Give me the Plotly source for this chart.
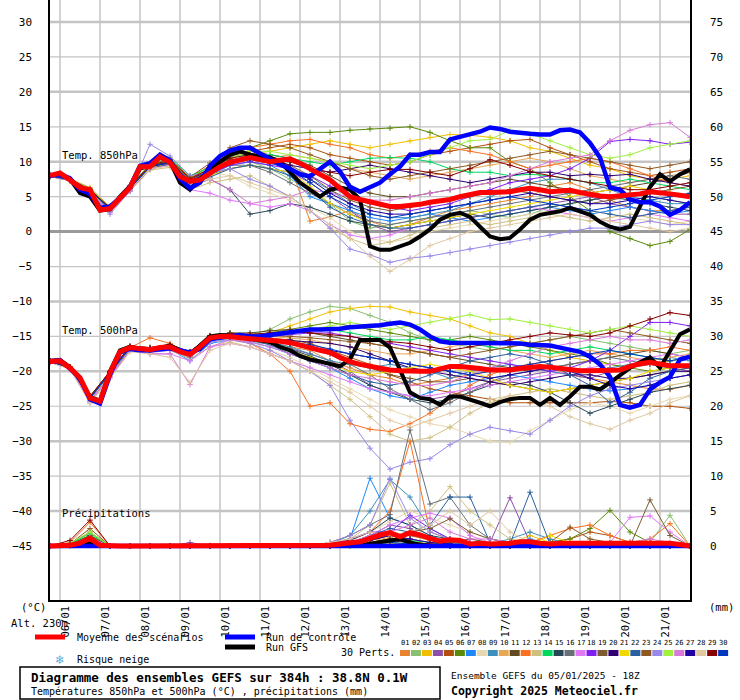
import pandas as pd
import plotly.graph_objects as go

# ── Time axes ──
run_start = "2025-01-05 18:00"
times6 = pd.date_range(run_start, periods=65, freq="6h")
times12 = times6[::2]
days = pd.date_range("2025-01-06", "2025-01-21", freq="D")

# ── Thick lines (6-hourly) ──
mean_850 = [8.0, 8.4, 7.4, 6.3, 6.0, 3.1, 3.3, 4.9, 6.3, 9.3, 9.3, 10.7, 9.9, 7.9, 7.2, 7.4, 8.4, 9.3, 9.9, 10.3,
            10.6, 10.3, 10.0, 10.2, 10.4, 9.8, 8.9, 8.2, 7.4, 6.3, 5.0, 4.6, 4.3, 3.9, 3.6, 3.6, 3.7, 3.9, 4.2, 4.4,
            4.6, 5.0, 5.3, 5.6, 5.6, 5.7, 5.7, 6.0, 6.2, 6.0, 5.7, 5.8, 5.9, 5.6, 5.3, 5.1, 5.0, 5.1, 5.2, 5.4,
            5.7, 5.6, 5.4, 5.2, 5.0]
ctrl_850 = [8.0, 8.2, 7.6, 6.0, 5.4, 3.4, 3.6, 4.8, 6.4, 9.4, 9.8, 11.0, 10.2, 7.6, 6.2, 7.0, 9.4, 10.8, 11.6, 12.0,
            12.0, 11.2, 10.4, 9.6, 9.0, 8.2, 7.9, 8.9, 10.0, 8.6, 6.4, 5.7, 6.3, 7.0, 8.2, 9.3, 11.0, 11.0, 11.4, 11.4,
            13.2, 13.6, 13.9, 14.3, 14.9, 14.7, 14.3, 14.1, 14.0, 13.9, 13.9, 14.5, 14.6, 14.2, 12.7, 10.6, 6.3, 6.0, 4.6, 4.2,
            4.2, 3.6, 2.4, 3.1, 4.2]
gfs_850 = [8.0, 8.3, 7.5, 5.5, 5.0, 3.0, 3.2, 5.0, 6.5, 9.0, 9.5, 11.0, 10.0, 7.0, 6.0, 7.5, 9.0, 10.0, 11.0, 11.5,
           11.0, 10.8, 10.6, 10.0, 8.5, 7.0, 6.0, 5.0, 6.0, 6.3, 6.0, 4.6, -2.1, -2.6, -2.6, -2.1, -1.6, -0.7, 0.3, 1.7,
           2.4, 2.7, 2.1, 0.7, -0.7, -1.1, -0.9, 0.3, 1.7, 2.4, 2.7, 2.9, 3.4, 2.9, 2.4, 1.4, 0.7, 0.3, 0.7, 3.6,
           6.4, 8.2, 7.2, 8.2, 8.9]
mean_500 = [-18.6, -18.5, -19.5, -20.9, -23.8, -24.3, -20.2, -17.2, -16.6, -16.7, -16.9, -16.6, -16.5, -17.2, -17.6, -16.5, -15.2, -15.0, -15.0, -15.2,
            -15.3, -15.4, -15.5, -15.7, -15.9, -16.2, -16.6, -17.0, -17.3, -18.0, -18.6, -19.0, -19.3, -19.6, -19.8, -19.9, -20.0, -20.0, -20.0, -19.6,
            -19.3, -19.3, -19.4, -19.6, -19.8, -19.8, -19.8, -19.6, -19.4, -19.3, -19.4, -19.6, -19.8, -19.9, -19.9, -19.9, -19.9, -19.8, -19.3, -18.9,
            -18.7, -18.9, -19.2, -19.2, -19.2]
ctrl_500 = [-18.6, -18.4, -19.6, -21.0, -24.0, -24.6, -20.5, -17.3, -16.8, -17.0, -17.0, -16.8, -16.7, -17.0, -17.3, -16.8, -15.4, -15.2, -15.0, -14.8,
            -15.0, -15.0, -14.8, -14.6, -14.3, -14.1, -14.0, -14.0, -14.0, -13.9, -13.7, -13.6, -13.6, -13.4, -13.2, -13.0, -13.3, -14.0, -15.0, -15.7,
            -15.9, -15.9, -15.9, -15.9, -15.9, -16.0, -15.9, -16.0, -16.2, -16.2, -16.3, -16.6, -16.9, -17.2, -17.9, -19.0, -20.8, -24.8, -25.2, -24.8,
            -22.6, -21.6, -20.8, -18.3, -17.9]
gfs_500 = [-18.5, -18.4, -19.4, -21.0, -23.7, -24.2, -20.0, -17.0, -16.5, -16.8, -17.0, -16.6, -16.3, -17.0, -17.5, -16.3, -15.0, -14.8, -14.9, -15.1,
           -15.3, -15.5, -15.8, -16.5, -17.0, -17.8, -18.3, -18.6, -19.0, -19.3, -18.3, -15.5, -15.5, -15.5, -16.6, -19.8, -23.0, -23.8, -24.0, -24.8,
           -23.6, -23.6, -24.0, -24.5, -25.0, -24.4, -24.0, -23.8, -23.8, -24.8, -23.8, -24.8, -23.6, -22.2, -22.2, -22.6, -21.6, -20.5, -19.5, -18.7,
           -18.0, -19.5, -17.2, -14.7, -14.0]
mean_pr = [0, 0, 0.1, 0.4, 1.1, 0.1, 0, 0, 0, 0, 0, 0, 0, 0.05, 0.05, 0.05, 0, 0, 0, 0.05,
           0.05, 0, 0, 0, 0, 0.05, 0.05, 0.1, 0.1, 0.3, 0.4, 0.6, 1.1, 1.6, 1.9, 1.3, 1.9, 1.6, 1.1, 0.7,
           0.9, 0.8, 0.3, 0.4, 0.3, 0.3, 0.4, 0.6, 0.6, 0.4, 0.3, 0.4, 0.4, 0.3, 0.3, 0.3, 0.3, 0.3, 0.4, 0.4,
           0.3, 0.3, 0.4, 0.2, 0]
ctrl_pr = [0] * 65
gfs_pr = [0, 0, 0, 0.3, 0.3, 0, 0, 0, 0, 0, 0, 0, 0, 0, 0, 0, 0, 0, 0, 0,
          0, 0, 0, 0, 0, 0, 0, 0, 0, 0, 0, 0, 0.3, 0.6, 0.8, 1.0, 0.5, 0.2, 0, 0,
          0, 0, 0, 0, 0, 0, 0, 0, 0, 0, 0, 0, 0, 0, 0, 0, 0.2, 0.4, 0.2, 0,
          0, 0, 0, 0, 0]

# ── 30 perturbations (12-hourly) ──
member_colors = ["#e8822e", "#88c070", "#f0c000", "#8c50a8", "#b0500c", "#5a8a0a", "#1e88ff", "#e8d8b0", "#3c90c0", "#e8a858",
                 "#604c20", "#f87020", "#d0c080", "#00d860", "#284858", "#687078", "#e078f8", "#8020f0", "#7c5c30", "#300070",
                 "#f0d800", "#2860a0", "#905820", "#9888e8", "#a0f040", "#d878d8", "#2000a0", "#e0c8a0", "#880000", "#0038c0"]

t850_01 = [8.0, 7.6, 6.0, 3.4, 6.0, 9.0, 9.6, 7.6, 8.0, 10.0, 11.0, 10.5, 9.5, 1.5, 2.1, 3.0, 1.5, 0.5, 1.0, 2.0, 3.0, 3.5, 4.0, 4.5, 5.0, 6.5, 7.0, 6.0, 4.5, 3.5, 3.0, 3.0, 3.5]
t850_02 = [7.9, 7.3, 5.8, 3.0, 6.5, 9.5, 10.2, 7.0, 9.0, 10.5, 10.0, 9.0, 7.5, 6.0, 4.0, 1.5, 0.5, 1.0, 1.5, 2.0, 2.5, 3.0, 2.5, 2.0, 2.5, 3.5, 4.0, 4.5, 5.0, 5.5, 5.0, 4.5, 4.0]
t850_03 = [8.1, 7.5, 6.2, 3.5, 6.3, 9.4, 10.0, 7.8, 8.5, 10.0, 11.0, 11.5, 12.0, 12.5, 13.0, 12.5, 12.0, 12.5, 13.0, 13.5, 13.9, 13.8, 13.5, 13.0, 12.0, 11.5, 10.5, 9.5, 9.0, 8.0, 7.5, 7.5, 8.0]
t850_04 = [7.9, 7.4, 5.5, 2.8, 5.8, 9.2, 9.8, 7.4, 8.2, 9.0, 9.5, 9.0, 8.5, 7.0, 5.0, 3.0, 1.0, 0.0, 0.5, 1.0, 1.5, 2.0, 2.5, 3.0, 3.5, 4.0, 4.5, 5.0, 4.0, 3.5, 3.0, 2.5, 2.5]
t850_05 = [8.0, 7.4, 6.1, 3.2, 6.4, 9.5, 10.4, 7.4, 8.9, 10.5, 11.5, 12.0, 12.5, 12.0, 11.0, 10.5, 10.0, 9.5, 10.0, 11.0, 11.5, 12.0, 12.5, 13.0, 13.2, 12.0, 11.0, 10.0, 9.0, 8.5, 8.0, 8.5, 9.0]
t850_06 = [8.0, 7.5, 6.0, 3.6, 6.6, 9.6, 10.2, 7.6, 9.4, 11.0, 12.0, 13.0, 14.0, 14.2, 14.2, 14.5, 14.7, 14.8, 15.0, 14.2, 13.0, 12.0, 12.0, 10.0, 9.0, 7.0, 5.0, 3.0, 0.0, -1.0, -2.0, -1.4, 0.3]
t850_07 = [8.2, 7.5, 5.9, 3.2, 6.2, 9.0, 9.6, 7.0, 8.0, 9.5, 10.0, 9.5, 8.0, 5.0, 4.0, 3.0, 2.0, 1.5, 2.0, 2.5, 2.0, 1.5, 2.0, 2.5, 3.0, 3.5, 3.0, 2.5, 3.0, 3.5, 3.0, 2.5, 3.0]
t850_08 = [8.0, 7.3, 5.7, 3.0, 6.0, 9.0, 9.5, 6.5, 8.5, 8.0, 6.5, 5.5, 4.5, 3.5, 2.0, 0.0, -1.0, -1.5, -1.0, 0.0, 0.5, 1.0, 1.5, 2.0, 2.5, 3.0, 3.5, 3.0, 2.5, 2.0, 1.5, 1.0, 1.5]
t850_09 = [8.0, 7.5, 6.0, 3.4, 6.5, 9.3, 10.0, 7.2, 8.6, 10.0, 10.5, 10.0, 9.0, 7.5, 6.0, 4.0, 2.5, 2.0, 2.0, 2.5, 3.0, 4.0, 5.0, 6.0, 7.0, 7.5, 7.5, 7.0, 6.0, 5.0, 4.5, 4.0, 4.0]
t850_10 = [8.1, 7.6, 6.3, 3.5, 6.5, 9.5, 10.2, 7.6, 8.8, 10.2, 11.0, 10.5, 11.0, 10.5, 10.0, 9.0, 8.5, 8.0, 7.5, 8.0, 8.5, 9.0, 9.5, 10.0, 10.5, 10.0, 9.0, 8.0, 7.5, 7.0, 7.5, 8.0, 8.5]
t850_11 = [8.0, 7.4, 5.8, 3.3, 6.3, 9.4, 10.0, 7.5, 9.0, 10.8, 11.5, 11.0, 10.5, 9.5, 8.0, 6.5, 5.5, 5.0, 5.0, 5.5, 6.0, 6.5, 7.0, 7.5, 7.0, 6.5, 6.0, 5.5, 6.0, 6.5, 7.0, 7.5, 8.5]
t850_12 = [8.0, 7.5, 6.0, 3.5, 6.4, 9.6, 10.5, 7.6, 9.5, 11.2, 12.0, 12.5, 13.0, 13.2, 12.5, 12.0, 11.0, 10.5, 11.0, 11.5, 12.0, 11.5, 11.0, 10.0, 9.0, 9.5, 10.0, 10.5, 10.0, 9.0, 8.0, 7.0, 6.5]
t850_13 = [7.9, 7.3, 5.6, 2.9, 5.8, 8.8, 9.2, 6.0, 7.0, 7.5, 8.0, 6.5, 5.0, 3.0, 0.5, -1.0, -2.0, -1.5, -0.5, 0.5, 1.0, 1.5, 1.0, 1.5, 2.0, 2.5, 2.0, 1.5, 2.0, 2.5, 2.0, 1.5, 1.0]
t850_14 = [8.0, 7.5, 6.1, 3.4, 6.5, 9.6, 10.5, 8.0, 9.2, 10.6, 11.0, 11.0, 10.5, 10.0, 9.5, 10.0, 10.5, 10.6, 10.5, 10.0, 9.0, 8.5, 8.5, 8.0, 8.2, 8.0, 7.5, 7.0, 7.0, 7.5, 7.0, 6.5, 6.0]
t850_15 = [8.0, 7.4, 5.8, 3.2, 6.0, 9.2, 9.5, 6.5, 7.5, 6.0, 2.5, 3.0, 4.0, 3.5, 2.5, 1.5, 1.0, 0.5, 1.0, 1.5, 2.0, 2.5, 2.0, 2.5, 3.0, 3.5, 4.0, 4.5, 5.0, 4.5, 4.0, 3.5, 3.0]
t850_16 = [8.0, 7.4, 5.9, 3.3, 6.2, 9.2, 9.8, 7.0, 8.5, 9.5, 9.5, 8.5, 7.0, 5.5, 4.0, 2.5, 1.5, 1.0, 1.5, 2.0, 2.5, 3.0, 3.5, 4.0, 4.5, 5.0, 5.5, 6.0, 6.5, 7.0, 7.5, 8.0, 7.5]
t850_17 = [8.0, 7.4, 5.7, 3.0, 6.0, 9.0, 9.5, 6.0, 5.5, 4.5, 4.0, 3.5, 4.0, 3.0, 1.0, -0.5, -1.0, -0.5, 0.5, 1.0, 1.5, 2.0, 2.5, 3.0, 3.5, 3.0, 2.5, 2.0, 1.5, 2.0, 2.5, 2.0, 1.5]
t850_18 = [8.1, 7.5, 6.0, 3.3, 6.2, 9.3, 9.8, 7.2, 8.3, 9.5, 10.0, 9.5, 9.0, 8.0, 6.5, 5.0, 4.0, 3.5, 3.0, 3.5, 4.0, 5.0, 6.0, 7.0, 7.5, 8.0, 9.0, 10.5, 12.9, 13.2, 13.0, 12.5, 12.8]
t850_19 = [8.0, 7.4, 5.9, 3.3, 6.3, 9.4, 10.0, 7.4, 8.6, 10.0, 10.5, 10.0, 9.5, 8.0, 6.0, 4.5, 3.5, 3.0, 3.5, 4.0, 4.5, 5.0, 5.5, 6.0, 5.5, 5.0, 4.5, 4.0, 4.5, 5.0, 5.5, 6.0, 6.5]
t850_20 = [8.0, 7.5, 6.0, 3.4, 6.4, 9.5, 10.0, 7.5, 8.8, 10.2, 10.8, 10.5, 9.5, 9.0, 8.5, 9.0, 9.5, 9.0, 8.5, 8.0, 7.5, 7.0, 7.5, 8.0, 8.5, 8.5, 8.0, 8.2, 8.0, 8.2, 7.5, 7.0, 6.5]
t850_21 = [8.0, 7.4, 5.8, 3.1, 6.2, 9.2, 9.8, 7.0, 8.0, 9.0, 9.5, 9.0, 8.5, 6.5, 4.0, 2.5, 1.0, 0.5, 1.0, 1.5, 2.0, 2.5, 3.0, 3.5, 4.0, 4.5, 5.0, 5.5, 6.0, 6.5, 6.0, 5.5, 5.0]
t850_22 = [7.9, 7.3, 5.7, 3.0, 5.9, 9.0, 9.6, 6.8, 7.8, 9.0, 9.5, 9.0, 8.0, 6.0, 3.5, 2.0, 1.0, 0.5, 0.5, 1.0, 1.5, 2.0, 2.5, 3.0, 3.5, 4.0, 3.5, 3.0, 2.5, 2.0, 2.5, 3.0, 3.5]
t850_23 = [8.0, 7.5, 6.0, 3.4, 6.5, 9.6, 10.3, 7.8, 9.8, 12.0, 13.0, 12.5, 12.0, 11.0, 10.0, 9.0, 8.0, 7.5, 8.0, 8.5, 9.0, 9.5, 10.0, 10.5, 11.0, 11.5, 11.0, 10.5, 10.0, 9.5, 9.0, 9.5, 10.0]
t850_24 = [8.1, 7.5, 5.8, 2.5, 5.8, 12.5, 10.8, 8.0, 8.5, 9.0, 7.5, 6.5, 5.0, 3.0, 0.5, -2.5, -3.3, -4.4, -3.8, -3.5, -3.0, -2.5, -2.0, -1.5, -1.0, -0.5, 0.0, 0.5, 0.5, 1.0, 1.5, 1.0, 1.0]
t850_25 = [8.0, 7.5, 6.1, 3.5, 6.4, 9.5, 10.2, 7.5, 9.2, 10.5, 11.5, 11.5, 11.0, 10.5, 10.0, 9.5, 9.0, 9.5, 10.0, 11.0, 12.0, 13.0, 13.2, 14.5, 14.0, 13.0, 12.0, 11.0, 10.5, 11.0, 12.0, 12.5, 13.0]
t850_26 = [7.9, 7.3, 5.6, 2.9, 5.9, 9.0, 9.5, 6.5, 7.5, 6.0, 4.0, 4.5, 5.0, 6.0, 5.5, 5.0, 4.5, 4.5, 5.0, 5.5, 6.0, 6.5, 7.0, 8.0, 9.0, 10.0, 10.5, 11.0, 13.0, 14.5, 15.3, 15.6, 13.5]
t850_27 = [8.0, 7.4, 5.9, 3.3, 6.2, 9.3, 9.8, 7.2, 8.5, 10.0, 10.5, 10.0, 9.0, 7.5, 5.5, 4.0, 3.0, 2.5, 2.5, 3.0, 3.5, 4.0, 4.5, 5.0, 5.5, 5.0, 4.5, 4.0, 4.0, 4.5, 5.0, 4.5, 4.0]
t850_28 = [8.0, 7.4, 5.8, 3.1, 6.0, 9.0, 9.4, 6.8, 7.5, 8.0, 7.0, 6.0, 5.0, 3.0, 1.0, -1.0, -3.5, -5.7, -4.0, -2.0, -1.0, 0.0, 0.5, 1.0, 1.5, 2.0, 2.5, 2.0, 1.5, 1.0, 0.5, 0.0, 0.5]
t850_29 = [8.0, 7.5, 6.0, 3.4, 6.4, 9.5, 10.2, 7.6, 9.0, 10.5, 11.0, 10.5, 10.0, 9.0, 8.5, 8.0, 8.5, 8.9, 8.9, 8.5, 8.0, 9.0, 10.3, 9.5, 8.6, 8.0, 7.5, 7.0, 6.5, 6.0, 6.0, 6.5, 7.0]
t850_30 = [8.0, 7.4, 5.9, 3.2, 6.2, 9.3, 9.9, 7.1, 8.3, 9.8, 10.3, 9.8, 9.0, 7.0, 5.0, 3.5, 2.5, 2.0, 2.5, 3.0, 3.5, 4.0, 4.5, 5.0, 4.5, 4.0, 3.5, 3.0, 3.5, 4.0, 4.5, 5.0, 5.5]

t500_01 = [-18.5, -19.4, -23.6, -20.0, -16.5, -16.8, -16.6, -17.5, -15.5, -15.2, -15.5, -15.8, -16.5, -17.0, -18.5, -19.5, -20.5, -21.0, -22.0, -21.5, -21.0, -20.5, -20.0, -19.5, -19.0, -19.5, -20.5, -21.0, -21.5, -22.0, -22.5, -22.6, -22.0]
t500_02 = [-18.6, -19.5, -23.8, -20.5, -16.8, -17.0, -16.4, -17.2, -15.0, -14.5, -14.8, -14.0, -12.5, -11.5, -10.7, -11.0, -12.0, -13.0, -14.5, -15.5, -16.0, -16.5, -17.0, -16.5, -16.0, -15.5, -15.0, -15.5, -16.0, -16.5, -17.0, -17.5, -17.0]
t500_03 = [-18.6, -19.5, -23.9, -20.3, -16.6, -16.9, -16.5, -17.8, -15.3, -15.0, -15.2, -14.5, -13.5, -12.5, -11.5, -11.0, -10.7, -10.8, -11.5, -12.0, -12.5, -13.5, -14.5, -15.0, -16.0, -17.0, -18.0, -18.5, -19.0, -19.5, -19.0, -18.5, -18.0]
t500_04 = [-18.7, -19.6, -24.0, -20.4, -16.7, -17.0, -16.7, -17.8, -15.4, -15.2, -15.5, -16.0, -16.8, -17.5, -18.5, -20.0, -22.0, -23.0, -23.5, -24.0, -23.5, -22.5, -21.5, -21.0, -20.5, -20.0, -20.5, -21.0, -20.0, -19.5, -19.0, -19.5, -20.0]
t500_05 = [-18.6, -19.5, -23.8, -20.2, -16.5, -16.8, -16.4, -17.5, -15.1, -14.8, -15.0, -15.2, -15.5, -16.0, -17.0, -18.0, -19.0, -20.5, -21.5, -22.5, -23.0, -23.5, -24.0, -24.5, -24.5, -24.5, -24.5, -24.5, -24.3, -24.5, -25.0, -25.0, -25.3]
t500_06 = [-18.5, -19.4, -23.7, -20.1, -16.5, -16.7, -16.3, -17.3, -15.0, -14.6, -14.8, -14.5, -14.0, -13.5, -13.0, -13.5, -14.0, -14.5, -15.0, -15.5, -15.5, -15.0, -15.5, -16.0, -16.5, -17.0, -17.5, -18.0, -19.0, -19.5, -20.0, -19.5, -19.0]
t500_07 = [-18.6, -19.5, -23.9, -20.4, -16.8, -17.2, -16.8, -18.5, -16.0, -15.5, -15.8, -16.5, -17.5, -18.5, -19.5, -21.0, -22.5, -23.5, -24.0, -23.0, -22.0, -21.5, -21.0, -20.5, -21.0, -21.5, -22.0, -22.5, -22.8, -22.5, -22.0, -21.0, -20.5]
t500_08 = [-18.7, -19.6, -24.2, -20.8, -17.0, -17.3, -16.9, -18.0, -15.8, -15.5, -16.0, -17.0, -18.0, -19.5, -21.0, -22.5, -24.0, -25.5, -26.5, -27.5, -28.0, -29.0, -30.0, -30.2, -28.5, -27.0, -25.5, -24.5, -25.0, -26.0, -25.0, -24.0, -23.5]
t500_09 = [-18.6, -19.5, -23.8, -20.2, -16.6, -16.9, -16.5, -17.5, -15.2, -15.0, -15.3, -15.8, -16.5, -17.5, -18.5, -19.0, -19.5, -19.0, -19.5, -20.0, -21.0, -20.0, -19.5, -19.0, -19.5, -20.0, -20.5, -20.0, -19.5, -19.0, -18.5, -18.0, -18.5]
t500_10 = [-18.6, -19.5, -23.7, -20.1, -16.5, -16.7, -16.3, -17.4, -15.0, -14.8, -15.0, -15.0, -15.2, -15.5, -16.0, -16.5, -17.0, -17.5, -17.5, -17.0, -16.5, -16.0, -16.5, -17.0, -17.5, -18.0, -17.5, -17.0, -17.5, -18.0, -18.5, -18.0, -17.5]
t500_11 = [-18.5, -19.4, -23.6, -20.0, -16.4, -16.6, -16.2, -17.2, -14.9, -14.5, -14.5, -14.2, -14.0, -14.5, -15.0, -15.5, -16.0, -16.5, -17.0, -17.5, -18.0, -18.5, -19.0, -19.5, -20.0, -19.5, -19.0, -18.5, -18.0, -17.5, -17.0, -17.5, -18.0]
t500_12 = [-18.6, -19.5, -23.8, -20.2, -16.6, -15.2, -16.0, -17.5, -15.3, -15.2, -16.0, -17.5, -20.0, -25.0, -24.5, -27.5, -28.3, -28.6, -27.5, -26.0, -24.0, -22.0, -20.5, -19.5, -19.0, -18.5, -18.0, -17.5, -17.5, -17.0, -17.0, -16.5, -17.0]
t500_13 = [-18.7, -19.6, -24.1, -20.6, -16.9, -17.2, -17.0, -18.2, -16.5, -15.8, -16.5, -17.5, -18.5, -20.0, -22.0, -24.0, -26.5, -29.0, -30.0, -29.5, -28.0, -26.0, -24.5, -23.5, -23.0, -22.5, -23.0, -23.5, -24.0, -23.5, -23.0, -22.0, -21.5]
t500_14 = [-18.6, -19.5, -23.8, -20.2, -16.6, -16.9, -16.4, -17.4, -15.1, -14.8, -15.0, -15.0, -14.5, -14.0, -14.0, -14.5, -15.0, -15.5, -15.5, -15.0, -15.5, -16.0, -16.5, -17.0, -17.0, -17.5, -17.0, -16.5, -17.0, -17.5, -18.0, -18.5, -18.0]
t500_15 = [-18.6, -19.5, -23.9, -20.3, -16.7, -17.0, -16.6, -17.7, -15.4, -15.2, -15.5, -16.0, -16.8, -17.8, -19.0, -20.5, -22.0, -23.0, -24.0, -24.5, -24.0, -23.0, -22.0, -21.5, -22.0, -23.0, -24.5, -26.0, -25.0, -24.0, -23.0, -22.5, -22.0]
t500_16 = [-18.6, -19.5, -23.8, -20.2, -16.6, -16.9, -16.5, -17.6, -15.2, -15.0, -15.3, -15.5, -16.0, -16.5, -17.5, -19.0, -20.5, -22.5, -24.0, -25.5, -24.5, -23.0, -21.5, -20.5, -20.0, -19.5, -19.0, -18.5, -18.0, -18.5, -19.0, -19.5, -19.0]
t500_17 = [-18.7, -19.6, -24.3, -20.7, -17.0, -17.5, -17.5, -18.5, -16.5, -16.0, -16.5, -17.5, -18.5, -19.5, -20.5, -21.5, -22.5, -23.0, -23.5, -23.5, -23.0, -22.5, -22.0, -21.5, -21.0, -20.5, -20.0, -19.5, -19.0, -18.5, -18.0, -17.5, -18.0]
t500_18 = [-18.6, -19.5, -23.8, -20.2, -16.6, -16.9, -16.5, -17.5, -15.2, -15.0, -15.2, -15.0, -14.8, -14.5, -14.5, -15.0, -15.5, -16.0, -16.5, -17.0, -17.5, -18.0, -18.5, -19.0, -19.5, -20.0, -19.5, -18.5, -17.0, -15.0, -13.0, -13.0, -13.5]
t500_19 = [-18.6, -19.4, -23.7, -20.1, -16.5, -16.8, -16.4, -17.4, -15.1, -14.9, -15.1, -15.3, -15.8, -16.5, -17.5, -18.5, -19.5, -20.5, -21.0, -21.5, -21.5, -21.0, -21.5, -22.0, -22.5, -23.0, -22.5, -22.0, -21.5, -21.0, -20.5, -20.0, -19.5]
t500_20 = [-18.6, -19.5, -23.8, -20.2, -16.6, -16.9, -16.5, -17.6, -15.2, -15.0, -15.2, -15.3, -15.5, -15.8, -16.0, -16.5, -17.5, -18.5, -19.5, -20.0, -20.5, -21.0, -21.5, -22.0, -21.5, -21.0, -20.5, -20.5, -21.0, -21.0, -20.5, -20.0, -20.0]
t500_21 = [-18.6, -19.5, -23.8, -20.3, -16.7, -17.2, -16.8, -18.0, -15.5, -15.3, -15.6, -16.0, -17.0, -18.0, -19.0, -20.0, -20.5, -20.0, -19.5, -19.0, -19.5, -20.0, -21.0, -22.0, -22.5, -23.0, -22.5, -22.0, -21.5, -21.0, -20.0, -19.5, -19.0]
t500_22 = [-18.6, -19.5, -23.8, -20.3, -16.7, -17.0, -16.6, -17.8, -15.4, -15.2, -15.6, -16.2, -17.5, -18.5, -19.5, -20.5, -21.5, -22.0, -21.5, -20.5, -19.5, -18.5, -18.0, -17.5, -18.0, -19.0, -20.5, -22.0, -24.5, -23.0, -21.0, -20.0, -19.5]
t500_23 = [-18.5, -19.4, -23.6, -20.0, -16.5, -16.7, -16.3, -17.3, -15.0, -14.7, -14.8, -14.8, -15.0, -15.2, -15.5, -15.8, -16.0, -16.5, -17.0, -17.5, -18.0, -17.5, -17.0, -16.5, -16.0, -15.5, -15.0, -14.5, -14.0, -14.5, -15.0, -15.5, -16.0]
t500_24 = [-18.7, -19.6, -24.5, -21.0, -17.0, -17.3, -17.0, -18.0, -15.8, -15.5, -16.0, -17.0, -18.5, -20.0, -22.0, -27.0, -31.0, -34.0, -33.0, -32.5, -30.5, -29.0, -28.0, -28.5, -29.0, -27.0, -25.0, -23.5, -22.5, -22.0, -21.5, -21.0, -20.5]
t500_25 = [-18.6, -19.5, -23.8, -20.2, -16.6, -16.9, -16.5, -17.5, -15.2, -15.0, -15.2, -15.0, -14.5, -14.0, -13.5, -13.0, -13.5, -14.0, -13.5, -13.0, -12.5, -11.9, -12.6, -12.5, -13.0, -13.5, -14.0, -14.5, -14.0, -13.5, -14.0, -14.5, -15.0]
t500_26 = [-18.7, -19.6, -24.2, -20.8, -17.0, -17.5, -17.5, -21.9, -16.5, -15.5, -15.8, -16.5, -17.5, -18.5, -19.5, -20.5, -21.0, -21.5, -22.0, -22.0, -21.5, -20.5, -19.5, -18.5, -17.5, -16.5, -16.0, -15.5, -15.0, -15.5, -15.5, -16.0, -15.5]
t500_27 = [-18.6, -19.5, -23.8, -20.2, -16.6, -16.9, -16.5, -17.6, -15.3, -15.1, -15.3, -15.5, -16.0, -16.5, -17.0, -17.5, -18.0, -18.5, -19.0, -19.5, -20.0, -20.5, -21.0, -20.5, -20.0, -19.5, -20.0, -21.0, -22.0, -22.5, -22.0, -21.0, -20.5]
t500_28 = [-18.7, -19.7, -24.6, -21.0, -17.2, -17.5, -18.0, -21.6, -17.0, -16.0, -16.5, -17.5, -18.5, -20.0, -21.5, -23.0, -25.0, -27.0, -28.0, -27.0, -26.0, -25.0, -24.0, -23.5, -24.0, -25.0, -26.5, -27.5, -28.3, -27.0, -26.0, -24.5, -23.5]
t500_29 = [-18.5, -19.4, -23.6, -20.0, -16.4, -16.6, -16.2, -17.2, -14.9, -14.6, -14.7, -14.5, -14.3, -14.5, -14.8, -15.0, -15.5, -15.8, -16.0, -16.5, -17.0, -16.5, -16.0, -15.5, -15.0, -14.5, -14.8, -15.0, -14.5, -13.5, -12.5, -11.6, -12.0]
t500_30 = [-18.6, -19.5, -23.8, -20.2, -16.6, -16.9, -16.5, -17.6, -15.2, -15.0, -15.3, -15.4, -15.8, -16.2, -16.8, -17.5, -18.0, -18.5, -19.0, -19.5, -20.0, -20.5, -20.0, -19.5, -19.0, -18.5, -18.0, -17.5, -17.0, -17.5, -18.0, -18.5, -18.0]

pr_01 = [0, 0.2, 1.0, 0, 0, 0, 0, 0, 0, 0, 0, 0, 0, 0, 0.3, 0.5, 1.0, 2.0, 1.5, 0.8, 0.5, 0.3, 0, 0, 0.2, 0.5, 0.3, 0, 0, 0.3, 0.5, 0.2, 0]
pr_02 = [0, 0.3, 1.5, 0, 0, 0, 0, 0, 0, 0, 0, 0, 0, 0, 0, 0.2, 0.5, 0.8, 0.5, 0.3, 0, 0, 0, 0, 0, 0, 0.3, 0.5, 0.3, 0, 0.5, 4.4, 0]
pr_03 = [0, 0.1, 0.8, 0, 0, 0, 0, 0, 0, 0, 0, 0, 0, 0, 0, 0, 0.2, 0.3, 0.2, 0, 0, 0, 0, 0.3, 1.5, 0.5, 0, 0, 0, 0, 0, 0, 0]
pr_04 = [0, 0.2, 1.2, 0, 0, 0, 0, 0.5, 0, 0, 0, 0, 0, 0, 0, 0.3, 1.5, 3.0, 2.5, 1.0, 0.5, 0.3, 0.5, 6.9, 0.5, 0, 0, 0, 0, 0, 0, 0, 0]
pr_05 = [0, 0.3, 2.0, 0, 0, 0, 0, 0, 0, 0, 0, 0, 0, 0, 0, 0.2, 1.0, 1.5, 1.0, 0.5, 0.3, 0, 0, 0, 0, 0.5, 1.0, 2.0, 1.5, 0.5, 0, 0, 0]
pr_06 = [0, 0.2, 1.5, 0, 0, 0, 0, 0, 0, 0, 0, 0, 0, 0, 0, 0, 0.3, 0.5, 0.3, 0, 0, 0, 0, 0, 0, 0.5, 1.0, 2.5, 5.1, 2.0, 0.5, 0, 0]
pr_07 = [0, 0.1, 0.8, 0, 0, 0, 0, 0, 0, 0, 0, 0, 0, 0, 0.2, 1.0, 9.7, 4.0, 3.0, 1.5, 0.5, 0.3, 0, 0.5, 1.0, 0.3, 0, 0, 0, 0, 0, 0, 0]
pr_08 = [0, 0, 0.5, 0, 0, 0, 0, 0, 0.2, 0, 0, 0, 0, 0, 0.5, 1.0, 2.0, 3.5, 5.0, 4.0, 3.0, 2.0, 1.0, 0.5, 0, 0, 0, 0, 0, 0, 0, 0, 0]
pr_09 = [0, 0.2, 1.0, 0, 0, 0, 0, 0, 0, 0, 0, 0, 0, 0, 0.3, 1.5, 5.0, 9.5, 7.0, 2.5, 1.0, 0.5, 0.3, 1.0, 2.0, 1.0, 0.3, 0, 0, 0, 0, 0, 0]
pr_10 = [0, 0.1, 0.6, 0, 0, 0, 0, 0, 0, 0, 0, 0, 0, 0, 0, 0.3, 0.8, 1.2, 0.5, 0.3, 0, 0, 0, 0, 0, 0, 0, 0, 0, 0, 0, 0, 0]
pr_11 = [0, 0.2, 1.5, 0, 0, 0, 0, 0, 0, 0, 0, 0, 0, 0, 0, 0.2, 0.5, 1.0, 0.5, 0.3, 0.5, 1.0, 0.5, 0.3, 0, 0, 0, 0, 0, 0, 0.5, 0.3, 0]
pr_12 = [0, 0.5, 3.4, 0, 0, 0, 0, 0, 0, 0, 0, 0, 0, 0, 0.3, 0.8, 2.0, 5.0, 15.0, 2.0, 1.0, 0.5, 0.3, 0, 0.5, 1.5, 2.5, 3.0, 1.5, 0.5, 1.0, 3.2, 0]
pr_13 = [0, 0.1, 0.8, 0, 0, 0, 0, 0, 0, 0, 0, 0, 0, 0, 0.5, 1.0, 3.0, 9.0, 3.0, 5.0, 8.5, 5.0, 3.0, 1.0, 0.5, 0.3, 0, 0, 0, 0, 0, 0, 0]
pr_14 = [0, 0.3, 1.8, 0, 0, 0, 0, 0, 0, 0, 0, 0, 0, 0, 0, 0.2, 0.5, 1.0, 0.8, 0.5, 0.3, 0, 0, 0, 0, 0, 0, 0, 0, 0, 0, 0, 0]
pr_15 = [0, 0.1, 0.7, 0, 0, 0, 0, 0, 0, 0, 0, 0, 0, 0, 0.3, 0.8, 2.0, 4.0, 3.0, 1.5, 1.0, 0.5, 0.3, 0, 0, 0, 0, 0, 0, 0, 0, 0, 0]
pr_16 = [0, 0.2, 1.2, 0, 0, 0, 0, 0, 0, 0, 0, 0, 0, 0, 0.5, 1.5, 3.0, 4.5, 16.6, 6.0, 7.0, 3.0, 1.0, 0.5, 0, 0, 0, 0, 0, 0, 0, 0, 0]
pr_17 = [0, 0.1, 0.6, 0, 0, 0, 0, 0, 0, 0, 0, 0, 0, 0, 0.2, 0.5, 1.5, 3.0, 4.0, 4.7, 4.0, 1.5, 0.5, 0.3, 0, 0, 0, 0, 0.5, 4.1, 4.3, 2.0, 0]
pr_18 = [0, 0.2, 1.0, 0, 0, 0, 0, 0, 0, 0, 0, 0, 0, 0, 0.3, 1.0, 2.0, 2.0, 4.4, 2.5, 1.0, 0.5, 0.3, 0, 0, 0, 0, 0, 0, 0, 0, 0, 0]
pr_19 = [0, 0.2, 1.3, 0, 0, 0, 0, 0, 0, 0, 0, 0, 0, 0, 0, 0.3, 0.8, 1.5, 2.0, 2.5, 3.9, 2.0, 1.0, 0.5, 0, 0, 0, 0, 0, 0, 6.6, 1.5, 0]
pr_20 = [0, 0.1, 0.5, 0, 0, 0, 0, 0, 0, 0, 0, 0, 0, 0, 0, 0.2, 0.5, 0.8, 0.5, 0.3, 0, 0, 0, 0, 0, 0, 0, 0, 0, 0, 0, 0, 0]
pr_21 = [0, 0.1, 0.8, 0, 0, 0, 0, 0, 0, 0, 0, 0, 0, 0, 0, 0.2, 0.5, 1.0, 0.5, 0.3, 0, 0, 0, 0, 0, 1.5, 0.5, 0, 0, 0, 0, 0, 0]
pr_22 = [0, 0.2, 1.0, 0, 0, 0, 0, 0, 0, 0, 0, 0, 0, 0, 0.2, 0.5, 1.5, 2.5, 2.0, 3.0, 7.0, 7.0, 0.5, 0.3, 7.7, 0.3, 0, 0, 0, 0, 0, 0, 0]
pr_23 = [0, 0.3, 2.5, 0, 0, 0, 0, 0, 0, 0, 0, 0, 0, 0, 0, 0.3, 1.0, 2.0, 1.5, 1.0, 0.5, 0.3, 0, 0, 0, 0.5, 2.7, 1.0, 0.5, 0, 0, 0, 0]
pr_24 = [0, 0.1, 0.7, 0, 0, 0, 0, 0, 0, 0, 0, 0, 0, 0, 0.5, 1.5, 3.0, 9.7, 4.0, 2.0, 1.0, 0.5, 0.3, 0, 0, 0, 0, 0, 0, 0, 0, 0, 0]
pr_25 = [0, 0.4, 2.0, 0, 0, 0, 0, 0, 0, 0, 0, 0, 0, 0, 0, 0.2, 0.5, 1.0, 0.5, 0.3, 0, 0, 0, 0, 0, 0, 0, 0, 0, 0, 0, 0, 0]
pr_26 = [0, 0.2, 1.2, 0, 0, 0, 0, 0, 0, 0, 0, 0, 0, 0, 0.2, 0.5, 1.5, 2.0, 3.0, 4.0, 2.0, 1.0, 1.0, 0.5, 0, 0, 0, 0, 0, 0.5, 1.0, 0.5, 0]
pr_27 = [0, 0.1, 0.8, 0, 0, 0, 0, 0, 0, 0, 0, 0, 0, 0, 0, 0.3, 0.8, 1.5, 1.0, 0.5, 0.3, 0, 0, 0, 0, 0, 0, 0, 0, 0, 0, 0.3, 0]
pr_28 = [0, 0.1, 0.6, 0, 0, 0, 0, 0, 0, 0, 0, 0, 0, 0, 0.5, 1.0, 2.0, 1.5, 2.0, 3.0, 5.0, 3.0, 5.0, 2.0, 0.5, 0.3, 0, 0, 0, 0, 0, 0, 0]
pr_29 = [0, 0.8, 3.7, 0, 0, 0, 0, 0, 0, 0, 0, 0, 0, 0, 0, 0.2, 0.5, 1.0, 0.5, 0.3, 0, 0, 0, 0, 0, 0, 0, 0, 0, 0, 0, 0, 0]
pr_30 = [0, 0.1, 0.5, 0, 0, 0, 0, 0, 0, 0, 0, 0, 0, 0, 0, 0.1, 0.3, 0.5, 0.3, 0, 0, 0, 0, 0, 0, 0, 0, 0, 0, 0, 0, 0, 0]

t850_members = [t850_01, t850_02, t850_03, t850_04, t850_05, t850_06, t850_07, t850_08, t850_09, t850_10,
                t850_11, t850_12, t850_13, t850_14, t850_15, t850_16, t850_17, t850_18, t850_19, t850_20,
                t850_21, t850_22, t850_23, t850_24, t850_25, t850_26, t850_27, t850_28, t850_29, t850_30]
t500_members = [t500_01, t500_02, t500_03, t500_04, t500_05, t500_06, t500_07, t500_08, t500_09, t500_10,
                t500_11, t500_12, t500_13, t500_14, t500_15, t500_16, t500_17, t500_18, t500_19, t500_20,
                t500_21, t500_22, t500_23, t500_24, t500_25, t500_26, t500_27, t500_28, t500_29, t500_30]
pr_members = [pr_01, pr_02, pr_03, pr_04, pr_05, pr_06, pr_07, pr_08, pr_09, pr_10,
              pr_11, pr_12, pr_13, pr_14, pr_15, pr_16, pr_17, pr_18, pr_19, pr_20,
              pr_21, pr_22, pr_23, pr_24, pr_25, pr_26, pr_27, pr_28, pr_29, pr_30]

# ── Axis scales (°C on left, mm on right = °C + 45) ──
Y_MIN, Y_MAX = -52.73, 33.15
PR_OFFSET = 45
temp_ticks = list(range(-45, 31, 5))
mm_ticks = list(range(0, 76, 5))

MONO = "DejaVu Sans Mono"
RED, BLUE, BLACK = "#ff0000", "#0000ff", "#000000"

# page pixels -> paper fractions (plot area is x 50..690, y 0..600)
def px(x):
    return (x - 50) / 640

def py(y):
    return (600 - y) / 600

fig = go.Figure()

# ── Perturbations ──
for series, axis in ((t850_members, "y"), (t500_members, "y"), (pr_members, "y2")):
    for vals, col in zip(series, member_colors):
        fig.add_trace(go.Scatter(
            x=times12, y=vals, yaxis=axis, mode="lines+markers",
            line=dict(color=col, width=1),
            marker=dict(symbol="cross-thin", size=4, line=dict(color=col, width=1)),
            hoverinfo="skip"))

# ── GFS, control, mean ──
for vals, axis, col, w in ((gfs_850, "y", BLACK, 4), (gfs_500, "y", BLACK, 4), (gfs_pr, "y2", BLACK, 4),
                           (ctrl_850, "y", BLUE, 4.5), (ctrl_500, "y", BLUE, 4.5), (ctrl_pr, "y2", BLUE, 4.5),
                           (mean_850, "y", RED, 5), (mean_500, "y", RED, 5), (mean_pr, "y2", RED, 5)):
    fig.add_trace(go.Scatter(x=times6, y=vals, yaxis=axis, mode="lines",
                             line=dict(color=col, width=w), hoverinfo="skip"))

shapes = []
# vertical day grid
for d in days:
    shapes.append(dict(type="line", xref="x", yref="paper", x0=d.isoformat(), x1=d.isoformat(), y0=0, y1=1,
                       line=dict(color="#c4c4c4", width=1.5), layer="below"))
# horizontal grid
for v in temp_ticks:
    if v == 0:
        col, w = "#9a9a9a", 3
    elif v % 10 == 0:
        col, w = "#c4c4c4", 2.5
    else:
        col, w = "#c4c4c4", 1.2
    shapes.append(dict(type="line", xref="paper", yref="y", x0=0, x1=1, y0=v, y1=v,
                       line=dict(color=col, width=w), layer="below"))

# legend swatches
shapes.append(dict(type="line", xref="paper", yref="paper", x0=px(35), x1=px(65), y0=py(637), y1=py(637),
                   line=dict(color=RED, width=5)))
shapes.append(dict(type="line", xref="paper", yref="paper", x0=px(225), x1=px(255), y0=py(637), y1=py(637),
                   line=dict(color=BLUE, width=5)))
shapes.append(dict(type="line", xref="paper", yref="paper", x0=px(225), x1=px(255), y0=py(647), y1=py(647),
                   line=dict(color=BLACK, width=5)))
# member colour boxes
for k, col in enumerate(member_colors):
    x0 = 400 + k * 10.97
    shapes.append(dict(type="rect", xref="paper", yref="paper", x0=px(x0), x1=px(x0 + 10), y0=py(656), y1=py(650),
                       fillcolor=col, line=dict(width=0)))
# title box
shapes.append(dict(type="rect", xref="paper", yref="paper", x0=px(20), x1=px(440), y0=py(699), y1=py(667),
                   line=dict(color=BLACK, width=1.5)))

annotations = []

def label(x, y, text, size=10.5, color=BLACK, anchor="left"):
    annotations.append(dict(xref="paper", yref="paper", x=px(x), y=py(y), text=text, showarrow=False,
                            xanchor=anchor, yanchor="middle", font=dict(family=MONO, size=size, color=color)))

label(60, 155, "Temp. 850hPa")
label(60, 330, "Temp. 500hPa")
label(60, 513, "Précipitations")
label(19, 607, "(°C)")
label(9, 623, "Alt. 230m")
label(707, 607, "(mm)")
label(75, 637, "Moyenne des scénarios", size=10)
label(264, 637, "Run de contrôle", size=10)
label(264, 647, "Run GFS", size=10)
label(53, 659, "❄", size=13, color="#5aa8e0")
label(75, 659, "Risque neige", size=10)
label(339, 652, "30 Perts.", size=10)
for k in range(len(member_colors)):
    label(400 + k * 10.97 + 5, 643, f"{k + 1:02d}", size=7, anchor="center")
label(29, 677, "<b>Diagramme des ensembles GEFS sur 384h : 38.8N 0.1W</b>", size=12.5)
label(29, 691, "Températures 850hPa et 500hPa (°C) , précipitations (mm)", size=10)
label(449, 675, "Ensemble GEFS du 05/01/2025 - 18Z", size=9.5)
label(449, 691, "<b>Copyright 2025 Meteociel.fr</b>", size=11.5)

fig.update_layout(
    width=740, height=700, autosize=False,
    margin=dict(l=50, r=50, t=0, b=100, pad=0),
    paper_bgcolor="white", plot_bgcolor="white",
    showlegend=False,
    shapes=shapes, annotations=annotations,
    xaxis=dict(type="date", range=[times6[0].isoformat(), times6[-1].isoformat()],
               tickvals=[(d + pd.Timedelta(hours=3.6)).isoformat() for d in days],
               ticktext=list(days.strftime("%d/%m")), tickangle=-90,
               tickfont=dict(family=MONO, size=10.5, color=BLACK),
               showgrid=False, zeroline=False, showline=True, linecolor=BLACK, linewidth=1.5, ticks=""),
    yaxis=dict(range=[Y_MIN, Y_MAX], tickvals=temp_ticks, showgrid=False, zeroline=False,
               showline=True, linecolor=BLACK, linewidth=1.5, ticks="", ticklabelstandoff=14,
               tickfont=dict(family=MONO, size=11, color=BLACK)),
    yaxis2=dict(range=[Y_MIN + PR_OFFSET, Y_MAX + PR_OFFSET], tickvals=mm_ticks, overlaying="y", side="right",
                showgrid=False, zeroline=False, showline=True, linecolor=BLACK, linewidth=1.5, ticks="",
                ticklabelstandoff=16, tickfont=dict(family=MONO, size=11, color=BLACK)),
)

# the page's default body margin would push the figure off the 740x700 window
fig.write_html("out.html", config={"displayModeBar": False},
               post_script="document.body.style.margin='0';")
